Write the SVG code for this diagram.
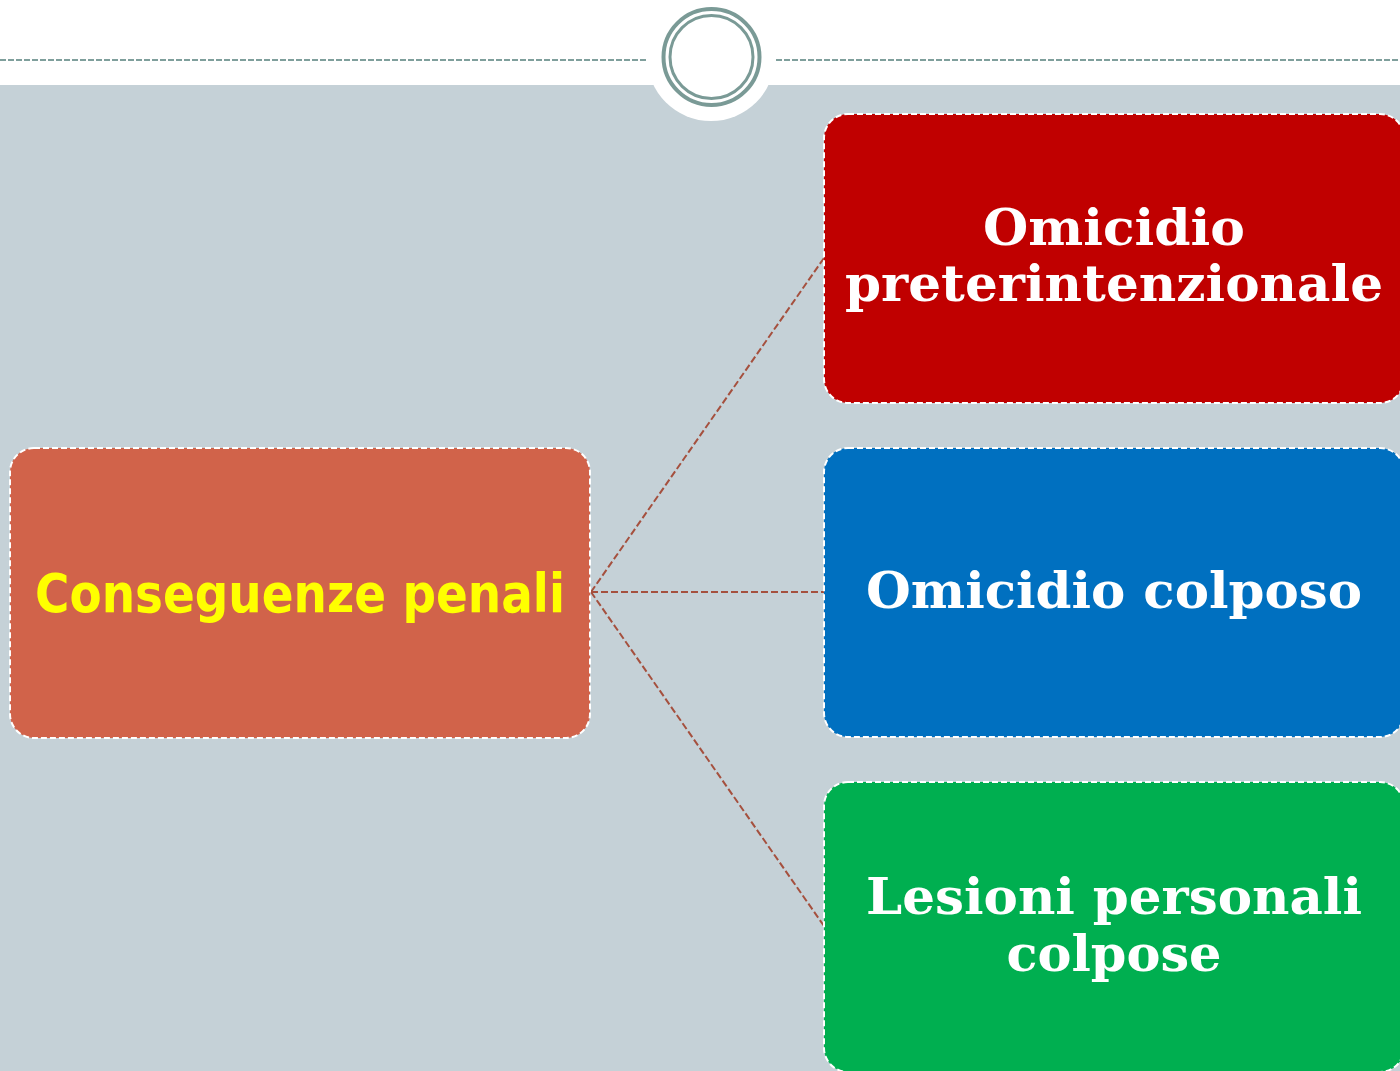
<svg xmlns="http://www.w3.org/2000/svg" width="1400" height="1071" viewBox="0 0 1400 1071">
<style>
.node{stroke:#ffffff;stroke-width:2;stroke-dasharray:6 3}
.conn{stroke:#A5503E;stroke-width:2;stroke-dasharray:7 3;fill:none}
.serif{font-family:"DejaVu Serif","Liberation Serif",serif;font-weight:bold;fill:#ffffff;font-size:51px;text-anchor:middle}
.sans{font-family:"DejaVu Sans","Liberation Sans",sans-serif;font-weight:bold;fill:#FFFF00;font-size:53px;text-anchor:middle}
</style>
<rect x="0" y="0" width="1400" height="1071" fill="#ffffff"/>
<rect x="0" y="85" width="1400" height="986" fill="#C5D1D7"/>
<g id="header">
<line x1="0" y1="60" x2="647" y2="60" stroke="#7F9F9C" stroke-width="2" stroke-dasharray="6 2"/>
<line x1="776" y1="60" x2="1400" y2="60" stroke="#7F9F9C" stroke-width="2" stroke-dasharray="6 2"/>
<circle cx="711" cy="57" r="64" fill="#ffffff"/>
<circle cx="711.5" cy="57" r="48" fill="none" stroke="#7A9A96" stroke-width="4"/>
<circle cx="711.5" cy="57" r="41.5" fill="none" stroke="#7A9A96" stroke-width="3"/>
</g>
<g id="connectors">
<line class="conn" x1="591" y1="592" x2="824" y2="258"/>
<line class="conn" x1="591" y1="592" x2="824" y2="592"/>
<line class="conn" x1="591" y1="592" x2="824" y2="926"/>
</g>
<g id="node-conseguenze">
<rect class="node" x="10" y="448" width="580" height="290" rx="24" fill="#D1634A"/>
<text class="sans" x="300" y="612" textLength="530" lengthAdjust="spacingAndGlyphs">Conseguenze penali</text>
</g>
<g id="node-preterintenzionale">
<rect class="node" x="824" y="114" width="580" height="289" rx="24" fill="#C00000"/>
<text class="serif" x="1114" y="245" textLength="262" lengthAdjust="spacingAndGlyphs">Omicidio</text>
<text class="serif" x="1114" y="301" textLength="538" lengthAdjust="spacingAndGlyphs">preterintenzionale</text>
</g>
<g id="node-colposo">
<rect class="node" x="824" y="448" width="580" height="289" rx="24" fill="#0070C0"/>
<text class="serif" x="1114" y="608" textLength="496" lengthAdjust="spacingAndGlyphs">Omicidio colposo</text>
</g>
<g id="node-lesioni">
<rect class="node" x="824" y="782" width="580" height="290" rx="24" fill="#00AF50"/>
<text class="serif" x="1114" y="914" textLength="496" lengthAdjust="spacingAndGlyphs">Lesioni personali</text>
<text class="serif" x="1114" y="971" textLength="215" lengthAdjust="spacingAndGlyphs">colpose</text>
</g>
</svg>
